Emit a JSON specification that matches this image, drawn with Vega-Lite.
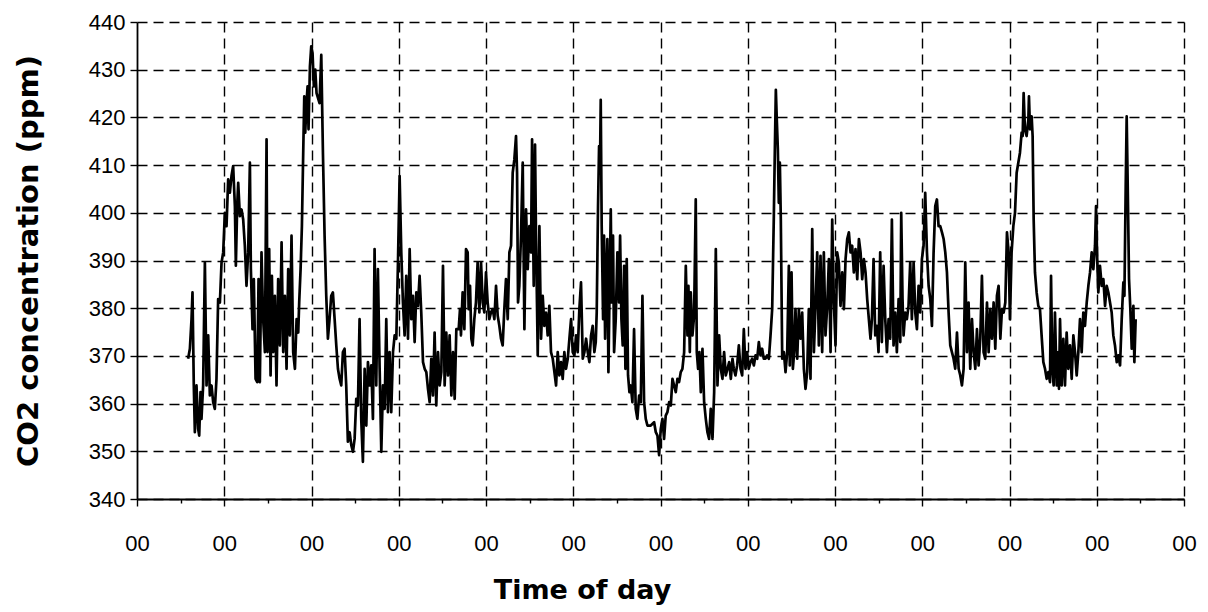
{
  "$schema": "https://vega.github.io/schema/vega-lite/v6.json",
  "width": 1047,
  "height": 477,
  "autosize": {"type": "none"},
  "padding": {"left": 137, "top": 22, "right": 24, "bottom": 113},
  "background": "white",
  "config": {"view": {"stroke": null}},
  "data": {"values": [
    {"t":0.586,"v":369.4},{"t":0.606,"v":371.5},{"t":0.625,"v":377.7},{"t":0.636,"v":383.3},{"t":0.651,"v":363.8},{"t":0.663,"v":354.0},{"t":0.682,"v":363.8},{"t":0.701,"v":354.7},{"t":0.713,"v":353.3},{"t":0.728,"v":362.4},{"t":0.739,"v":356.8},{"t":0.758,"v":363.8},{"t":0.778,"v":389.6},{"t":0.797,"v":363.8},{"t":0.816,"v":374.3},{"t":0.835,"v":361.7},{"t":0.854,"v":363.8},{"t":0.873,"v":360.3},{"t":0.892,"v":358.9},{"t":0.911,"v":365.2},{"t":0.930,"v":381.9},{"t":0.950,"v":381.2},{"t":0.969,"v":389.6},{"t":0.988,"v":391.7},{"t":1.007,"v":400.0},{"t":1.026,"v":397.2},{"t":1.045,"v":407.0},{"t":1.064,"v":404.2},{"t":1.083,"v":407.7},{"t":1.102,"v":409.8},{"t":1.122,"v":401.4},{"t":1.133,"v":388.9},{"t":1.148,"v":401.4},{"t":1.160,"v":406.3},{"t":1.179,"v":399.3},{"t":1.198,"v":400.7},{"t":1.217,"v":398.6},{"t":1.236,"v":393.1},{"t":1.255,"v":384.7},{"t":1.274,"v":391.7},{"t":1.294,"v":410.5},{"t":1.305,"v":388.2},{"t":1.324,"v":375.6},{"t":1.339,"v":386.1},{"t":1.359,"v":365.2},{"t":1.378,"v":364.5},{"t":1.393,"v":386.1},{"t":1.408,"v":364.5},{"t":1.427,"v":391.7},{"t":1.446,"v":377.7},{"t":1.466,"v":370.8},{"t":1.485,"v":415.4},{"t":1.496,"v":370.8},{"t":1.515,"v":392.4},{"t":1.531,"v":365.9},{"t":1.546,"v":386.8},{"t":1.561,"v":370.8},{"t":1.580,"v":382.6},{"t":1.599,"v":363.8},{"t":1.618,"v":386.1},{"t":1.638,"v":372.2},{"t":1.657,"v":393.8},{"t":1.676,"v":370.8},{"t":1.695,"v":382.6},{"t":1.714,"v":367.3},{"t":1.733,"v":388.2},{"t":1.752,"v":374.3},{"t":1.771,"v":395.2},{"t":1.790,"v":370.8},{"t":1.810,"v":367.3},{"t":1.829,"v":377.7},{"t":1.848,"v":374.9},{"t":1.859,"v":381.2},{"t":1.875,"v":388.2},{"t":1.890,"v":397.2},{"t":1.905,"v":412.6},{"t":1.917,"v":424.4},{"t":1.928,"v":416.8},{"t":1.943,"v":423.0},{"t":1.955,"v":426.5},{"t":1.966,"v":417.5},{"t":1.982,"v":430.7},{"t":1.997,"v":434.9},{"t":2.012,"v":433.5},{"t":2.027,"v":426.5},{"t":2.043,"v":430.0},{"t":2.058,"v":425.1},
    {"t":2.092,"v":423.0},{"t":2.112,"v":433.1},{"t":2.131,"v":412.6},{"t":2.150,"v":395.2},{"t":2.169,"v":382.6},{"t":2.188,"v":373.6},{"t":2.207,"v":377.7},{"t":2.226,"v":382.6},{"t":2.245,"v":383.3},{"t":2.265,"v":377.7},{"t":2.284,"v":372.2},{"t":2.303,"v":367.3},{"t":2.322,"v":365.2},{"t":2.341,"v":363.8},{"t":2.360,"v":370.8},{"t":2.379,"v":371.5},{"t":2.398,"v":363.8},{"t":2.417,"v":352.0},{"t":2.437,"v":354.0},{"t":2.456,"v":351.3},{"t":2.475,"v":349.9},{"t":2.494,"v":352.6},{"t":2.513,"v":361.0},{"t":2.532,"v":359.6},{"t":2.551,"v":377.7},{"t":2.570,"v":356.8},{"t":2.589,"v":347.8},{"t":2.609,"v":367.3},{"t":2.628,"v":355.4},{"t":2.647,"v":368.7},{"t":2.666,"v":363.8},{"t":2.685,"v":368.0},{"t":2.704,"v":356.8},{"t":2.723,"v":392.4},{"t":2.742,"v":363.8},{"t":2.761,"v":388.2},{"t":2.781,"v":367.3},{"t":2.800,"v":349.9},{"t":2.819,"v":363.8},{"t":2.838,"v":358.9},{"t":2.857,"v":377.7},{"t":2.876,"v":358.2},{"t":2.895,"v":370.8},{"t":2.914,"v":358.2},{"t":2.934,"v":370.8},{"t":2.953,"v":374.3},{"t":2.972,"v":373.6},{"t":2.991,"v":389.6},{"t":3.010,"v":407.7},{"t":3.029,"v":391.7},{"t":3.048,"v":381.2},{"t":3.067,"v":374.3},{"t":3.086,"v":386.8},{"t":3.106,"v":373.6},{"t":3.125,"v":392.4},{"t":3.144,"v":377.7},{"t":3.163,"v":382.6},{"t":3.182,"v":372.9},{"t":3.201,"v":383.3},{"t":3.220,"v":380.5},{"t":3.239,"v":386.8},{"t":3.258,"v":379.1},{"t":3.278,"v":368.7},{"t":3.297,"v":367.3},{"t":3.316,"v":366.6},{"t":3.335,"v":363.1},{"t":3.354,"v":360.3},{"t":3.373,"v":369.4},{"t":3.392,"v":361.7},{"t":3.411,"v":374.9},{"t":3.430,"v":359.6},{"t":3.450,"v":370.8},{"t":3.469,"v":363.8},{"t":3.488,"v":366.6},{"t":3.507,"v":388.9},{"t":3.526,"v":363.8},{"t":3.545,"v":374.9},{"t":3.564,"v":365.9},{"t":3.583,"v":374.3},{"t":3.603,"v":361.7},{"t":3.622,"v":370.8},{"t":3.641,"v":361.0},{"t":3.660,"v":375.6},
    {"t":3.687,"v":375.6},{"t":3.702,"v":379.8},{"t":3.713,"v":374.3},{"t":3.732,"v":383.3},{"t":3.752,"v":375.6},{"t":3.771,"v":392.4},{"t":3.790,"v":391.7},{"t":3.801,"v":379.8},{"t":3.817,"v":384.7},{"t":3.832,"v":373.6},{"t":3.847,"v":372.2},{"t":3.866,"v":377.7},{"t":3.885,"v":381.2},{"t":3.904,"v":389.6},{"t":3.924,"v":379.1},{"t":3.943,"v":389.6},{"t":3.962,"v":381.2},{"t":3.981,"v":379.1},{"t":4.000,"v":387.5},{"t":4.019,"v":381.2},{"t":4.038,"v":377.7},{"t":4.057,"v":379.1},{"t":4.077,"v":379.8},{"t":4.096,"v":377.7},{"t":4.115,"v":384.7},{"t":4.134,"v":378.4},{"t":4.153,"v":376.3},{"t":4.172,"v":373.6},{"t":4.191,"v":372.2},{"t":4.210,"v":379.8},{"t":4.229,"v":386.1},{"t":4.249,"v":377.7},{"t":4.268,"v":391.7},{"t":4.287,"v":393.1},{"t":4.306,"v":408.4},{"t":4.325,"v":411.2},{"t":4.344,"v":416.1},{"t":4.356,"v":408.4},{"t":4.367,"v":381.2},{"t":4.382,"v":384.7},{"t":4.401,"v":395.2},{"t":4.421,"v":410.5},{"t":4.440,"v":375.6},{"t":4.459,"v":400.7},{"t":4.478,"v":388.2},{"t":4.497,"v":397.2},{"t":4.516,"v":391.7},{"t":4.528,"v":415.4},{"t":4.547,"v":384.7},{"t":4.562,"v":414.3},{"t":4.573,"v":395.2},{"t":4.593,"v":370.1},{"t":4.612,"v":397.2},{"t":4.631,"v":373.6},{"t":4.650,"v":382.6},{"t":4.669,"v":376.3},{"t":4.688,"v":379.1},{"t":4.707,"v":374.3},{"t":4.726,"v":380.5},{"t":4.745,"v":370.8},{"t":4.765,"v":369.4},{"t":4.784,"v":366.6},{"t":4.803,"v":363.8},{"t":4.822,"v":370.8},{"t":4.841,"v":365.9},{"t":4.860,"v":368.7},{"t":4.879,"v":365.2},{"t":4.898,"v":370.8},{"t":4.917,"v":367.3},{"t":4.937,"v":369.4},{"t":4.956,"v":373.6},{"t":4.975,"v":377.7},{"t":4.994,"v":370.8},{"t":5.013,"v":370.1},{"t":5.032,"v":374.3},{"t":5.051,"v":370.8},{"t":5.070,"v":379.8},{"t":5.089,"v":385.4},{"t":5.109,"v":369.4},{"t":5.128,"v":370.8},{"t":5.147,"v":373.6},{"t":5.166,"v":370.8},{"t":5.185,"v":368.7},{"t":5.204,"v":374.3},{"t":5.223,"v":376.3},{"t":5.242,"v":370.8},
    {"t":5.258,"v":372.9},{"t":5.269,"v":379.1},{"t":5.284,"v":401.4},{"t":5.296,"v":414.0},{"t":5.307,"v":410.5},{"t":5.315,"v":423.7},{"t":5.326,"v":397.2},{"t":5.342,"v":377.7},{"t":5.353,"v":395.2},{"t":5.365,"v":373.6},{"t":5.380,"v":387.5},{"t":5.391,"v":394.5},{"t":5.403,"v":366.6},{"t":5.418,"v":386.1},{"t":5.430,"v":400.7},{"t":5.441,"v":381.2},{"t":5.456,"v":395.2},{"t":5.468,"v":370.8},{"t":5.487,"v":377.7},{"t":5.506,"v":391.7},{"t":5.525,"v":381.2},{"t":5.537,"v":395.2},{"t":5.552,"v":377.7},{"t":5.567,"v":372.2},{"t":5.583,"v":388.9},{"t":5.598,"v":367.3},{"t":5.613,"v":390.3},{"t":5.628,"v":365.9},{"t":5.644,"v":362.4},{"t":5.659,"v":363.8},{"t":5.678,"v":360.3},{"t":5.697,"v":375.6},{"t":5.716,"v":358.9},{"t":5.735,"v":356.8},{"t":5.755,"v":361.7},{"t":5.774,"v":360.3},{"t":5.793,"v":382.6},{"t":5.812,"v":360.3},{"t":5.831,"v":356.8},{"t":5.850,"v":355.4},{"t":5.888,"v":355.4},{"t":5.927,"v":356.1},{"t":5.946,"v":354.0},{"t":5.965,"v":353.3},{"t":5.984,"v":349.2},{"t":6.003,"v":354.7},{"t":6.022,"v":356.8},{"t":6.041,"v":352.6},{"t":6.060,"v":357.5},{"t":6.079,"v":358.2},{"t":6.099,"v":360.3},{"t":6.118,"v":359.6},{"t":6.137,"v":365.2},{"t":6.156,"v":363.8},{"t":6.175,"v":362.4},{"t":6.194,"v":365.2},{"t":6.213,"v":364.5},{"t":6.232,"v":366.6},{"t":6.251,"v":367.3},{"t":6.271,"v":370.8},{"t":6.290,"v":388.9},{"t":6.309,"v":374.3},{"t":6.320,"v":384.7},{"t":6.336,"v":370.8},{"t":6.347,"v":383.3},{"t":6.366,"v":374.3},{"t":6.385,"v":378.4},{"t":6.404,"v":402.8},{"t":6.416,"v":370.8},{"t":6.431,"v":367.3},{"t":6.446,"v":370.8},{"t":6.462,"v":362.4},{"t":6.481,"v":371.5},{"t":6.500,"v":360.3},{"t":6.519,"v":356.8},{"t":6.538,"v":354.0},{"t":6.557,"v":352.6},{"t":6.576,"v":358.9},{"t":6.596,"v":352.6},{"t":6.615,"v":362.4},{"t":6.634,"v":392.4},{"t":6.653,"v":363.8},{"t":6.672,"v":374.3},{"t":6.691,"v":367.3},{"t":6.710,"v":365.2},{"t":6.729,"v":370.8},{"t":6.748,"v":365.9},{"t":6.768,"v":367.3},{"t":6.787,"v":368.7},{"t":6.806,"v":365.2},{"t":6.825,"v":369.4},
    {"t":6.840,"v":367.3},{"t":6.859,"v":365.9},{"t":6.878,"v":368.0},{"t":6.898,"v":372.2},{"t":6.917,"v":367.3},{"t":6.936,"v":365.9},{"t":6.955,"v":375.6},{"t":6.974,"v":367.3},{"t":6.993,"v":370.8},{"t":7.012,"v":367.3},{"t":7.031,"v":368.7},{"t":7.050,"v":369.4},{"t":7.070,"v":368.0},{"t":7.089,"v":370.1},{"t":7.108,"v":369.4},{"t":7.127,"v":372.9},{"t":7.146,"v":370.1},{"t":7.165,"v":371.5},{"t":7.184,"v":369.4},{"t":7.203,"v":369.4},{"t":7.222,"v":370.1},{"t":7.242,"v":369.4},{"t":7.261,"v":374.3},{"t":7.280,"v":379.8},{"t":7.299,"v":399.3},{"t":7.310,"v":412.6},{"t":7.322,"v":425.8},{"t":7.333,"v":419.5},{"t":7.345,"v":413.3},{"t":7.356,"v":402.1},{"t":7.368,"v":410.5},{"t":7.379,"v":398.6},{"t":7.395,"v":369.4},{"t":7.414,"v":370.8},{"t":7.433,"v":366.6},{"t":7.452,"v":370.8},{"t":7.471,"v":388.9},{"t":7.482,"v":368.0},{"t":7.502,"v":387.5},{"t":7.517,"v":367.3},{"t":7.532,"v":370.8},{"t":7.547,"v":379.8},{"t":7.567,"v":369.4},{"t":7.586,"v":379.8},{"t":7.605,"v":373.6},{"t":7.624,"v":379.1},{"t":7.643,"v":367.3},{"t":7.662,"v":363.1},{"t":7.681,"v":366.6},{"t":7.700,"v":379.8},{"t":7.719,"v":365.2},{"t":7.739,"v":396.6},{"t":7.758,"v":370.8},{"t":7.777,"v":380.5},{"t":7.796,"v":391.7},{"t":7.815,"v":372.2},{"t":7.834,"v":391.0},{"t":7.853,"v":370.8},{"t":7.872,"v":391.7},{"t":7.891,"v":374.3},{"t":7.911,"v":380.5},{"t":7.930,"v":390.3},{"t":7.949,"v":370.8},{"t":7.968,"v":398.6},{"t":7.987,"v":381.2},{"t":8.006,"v":372.2},{"t":8.025,"v":391.7},{"t":8.044,"v":389.6},{"t":8.063,"v":380.5},{"t":8.083,"v":387.5},{"t":8.102,"v":379.8},{"t":8.121,"v":390.3},{"t":8.140,"v":394.5},{"t":8.159,"v":395.9},{"t":8.178,"v":391.7},{"t":8.197,"v":393.1},{"t":8.216,"v":387.5},{"t":8.235,"v":392.4},{"t":8.255,"v":386.1},{"t":8.274,"v":394.5},{"t":8.293,"v":391.7},{"t":8.312,"v":386.1},{"t":8.331,"v":390.3},{"t":8.350,"v":387.5},{"t":8.369,"v":381.9},{"t":8.388,"v":377.7},{"t":8.407,"v":373.6},
    {"t":8.423,"v":377.7},{"t":8.442,"v":390.3},{"t":8.461,"v":374.3},{"t":8.480,"v":376.3},{"t":8.499,"v":370.8},{"t":8.518,"v":391.7},{"t":8.537,"v":372.9},{"t":8.557,"v":388.9},{"t":8.576,"v":377.7},{"t":8.595,"v":370.8},{"t":8.614,"v":377.7},{"t":8.633,"v":373.6},{"t":8.652,"v":398.6},{"t":8.671,"v":372.2},{"t":8.690,"v":379.1},{"t":8.709,"v":370.8},{"t":8.729,"v":381.9},{"t":8.748,"v":372.9},{"t":8.759,"v":400.0},{"t":8.774,"v":381.9},{"t":8.786,"v":374.3},{"t":8.805,"v":379.1},{"t":8.824,"v":377.7},{"t":8.843,"v":380.5},{"t":8.862,"v":389.6},{"t":8.881,"v":377.7},{"t":8.901,"v":389.6},{"t":8.920,"v":379.1},{"t":8.939,"v":375.6},{"t":8.958,"v":384.7},{"t":8.977,"v":379.1},{"t":8.996,"v":390.3},{"t":9.015,"v":393.1},{"t":9.034,"v":404.2},{"t":9.054,"v":391.7},{"t":9.073,"v":384.7},{"t":9.092,"v":381.9},{"t":9.111,"v":376.3},{"t":9.130,"v":391.7},{"t":9.149,"v":401.4},{"t":9.168,"v":402.8},{"t":9.187,"v":397.2},{"t":9.206,"v":397.2},{"t":9.226,"v":395.9},{"t":9.245,"v":394.5},{"t":9.264,"v":391.7},{"t":9.283,"v":387.5},{"t":9.302,"v":379.1},{"t":9.321,"v":372.2},{"t":9.340,"v":370.8},{"t":9.359,"v":369.4},{"t":9.378,"v":367.3},{"t":9.398,"v":374.9},{"t":9.417,"v":367.3},{"t":9.436,"v":365.9},{"t":9.455,"v":363.8},{"t":9.474,"v":367.3},{"t":9.493,"v":389.6},{"t":9.512,"v":370.8},{"t":9.531,"v":381.2},{"t":9.550,"v":367.3},{"t":9.570,"v":377.7},{"t":9.589,"v":370.8},{"t":9.608,"v":367.3},{"t":9.627,"v":375.6},{"t":9.646,"v":368.0},{"t":9.665,"v":373.6},{"t":9.684,"v":386.8},{"t":9.703,"v":370.8},{"t":9.722,"v":369.4},{"t":9.742,"v":381.2},{"t":9.761,"v":370.8},{"t":9.780,"v":379.8},{"t":9.799,"v":373.6},{"t":9.818,"v":381.2},{"t":9.837,"v":371.5},{"t":9.856,"v":382.6},{"t":9.875,"v":384.7},{"t":9.895,"v":373.6},{"t":9.914,"v":379.8},{"t":9.933,"v":379.1},{"t":9.952,"v":381.2},{"t":9.971,"v":395.9},{"t":9.990,"v":391.7},
    {"t":10.005,"v":377.7},{"t":10.024,"v":391.7},{"t":10.044,"v":397.2},{"t":10.063,"v":400.0},{"t":10.082,"v":408.4},{"t":10.101,"v":410.5},{"t":10.120,"v":412.6},{"t":10.139,"v":416.8},{"t":10.151,"v":416.1},{"t":10.162,"v":425.1},{"t":10.177,"v":417.5},{"t":10.196,"v":416.1},{"t":10.216,"v":419.5},{"t":10.223,"v":424.4},{"t":10.235,"v":417.5},{"t":10.254,"v":420.2},{"t":10.265,"v":416.1},{"t":10.277,"v":398.6},{"t":10.292,"v":387.5},{"t":10.311,"v":383.3},{"t":10.330,"v":380.5},{"t":10.349,"v":379.8},{"t":10.368,"v":374.3},{"t":10.388,"v":368.7},{"t":10.407,"v":367.3},{"t":10.426,"v":365.2},{"t":10.445,"v":366.6},{"t":10.464,"v":364.5},{"t":10.476,"v":386.8},{"t":10.491,"v":367.3},{"t":10.506,"v":363.8},{"t":10.521,"v":379.1},{"t":10.541,"v":363.8},{"t":10.560,"v":370.8},{"t":10.567,"v":363.1},{"t":10.579,"v":377.7},{"t":10.598,"v":363.8},{"t":10.617,"v":373.6},{"t":10.636,"v":363.8},{"t":10.655,"v":374.9},{"t":10.674,"v":367.3},{"t":10.693,"v":372.2},{"t":10.713,"v":365.2},{"t":10.732,"v":374.3},{"t":10.751,"v":370.8},{"t":10.770,"v":365.9},{"t":10.789,"v":370.8},{"t":10.808,"v":377.7},{"t":10.827,"v":370.8},{"t":10.846,"v":379.1},{"t":10.865,"v":376.3},{"t":10.885,"v":381.2},{"t":10.904,"v":384.7},{"t":10.923,"v":387.5},{"t":10.942,"v":391.7},{"t":10.961,"v":388.2},{"t":10.980,"v":393.1},{"t":10.992,"v":401.4},{"t":11.003,"v":391.7},{"t":11.018,"v":383.3},{"t":11.037,"v":388.9},{"t":11.057,"v":384.7},{"t":11.076,"v":386.1},{"t":11.095,"v":380.5},{"t":11.114,"v":384.7},{"t":11.133,"v":383.3},{"t":11.152,"v":381.2},{"t":11.171,"v":379.1},{"t":11.190,"v":374.3},{"t":11.209,"v":372.2},{"t":11.229,"v":368.7},{"t":11.248,"v":370.1},{"t":11.267,"v":368.0},{"t":11.286,"v":377.7},{"t":11.305,"v":385.4},{"t":11.317,"v":382.6},{"t":11.332,"v":405.6},{"t":11.343,"v":420.2},{"t":11.355,"v":405.6},{"t":11.370,"v":386.1},{"t":11.385,"v":379.8},{"t":11.401,"v":371.5},{"t":11.420,"v":380.5},{"t":11.431,"v":368.7},{"t":11.446,"v":377.7}
  ]},
  "mark": {"type": "line", "color": "#000000", "strokeWidth": 2.7, "strokeJoin": "round"},
  "encoding": {
    "x": {
      "field": "t",
      "type": "quantitative",
      "scale": {"domain": [0, 12], "nice": false, "zero": false},
      "axis": {
        "values": [0,0.5,1,1.5,2,2.5,3,3.5,4,4.5,5,5.5,6,6.5,7,7.5,8,8.5,9,9.5,10,10.5,11,11.5,12],
        "labelExpr": "datum.value % 1 === 0 ? '00' : ''",
        "labelOverlap": false,
        "labelFlush": false,
        "labelFont": "Liberation Sans",
        "labelFontSize": 22,
        "labelColor": "#000000",
        "labelPadding": 27,
        "grid": true,
        "gridColor": "#000000",
        "gridDash": [10, 6],
        "gridWidth": 1.4,
        "gridOpacity": {"condition": {"test": "datum.value % 1 === 0 && datum.value > 0", "value": 1}, "value": 0},
        "tickColor": "#000000",
        "tickWidth": 1.4,
        "tickSize": {"condition": {"test": "datum.value % 1 === 0", "value": 7}, "value": 4},
        "domainColor": "#000000",
        "domainWidth": 1.8,
        "title": "Time of day",
        "titleFont": "DejaVu Sans",
        "titleFontWeight": "bold",
        "titleFontSize": 27,
        "titleColor": "#000000",
        "titleX": 445,
        "titleAlign": "center",
        "titlePadding": 23
      }
    },
    "y": {
      "field": "v",
      "type": "quantitative",
      "scale": {"domain": [340, 440], "nice": false, "zero": false},
      "axis": {
        "values": [340,350,360,370,380,390,400,410,420,430,440],
        "labelFont": "Liberation Sans",
        "labelFontSize": 22,
        "labelColor": "#000000",
        "labelPadding": 5,
        "grid": true,
        "gridColor": "#000000",
        "gridDash": [10, 6],
        "gridWidth": 1.4,
        "tickColor": "#000000",
        "tickWidth": 1.4,
        "tickSize": 7,
        "domainColor": "#000000",
        "domainWidth": 1.8,
        "title": "CO2 concentration  (ppm)",
        "titleFont": "DejaVu Sans",
        "titleFontWeight": "bold",
        "titleFontSize": 29,
        "titleColor": "#000000",
        "titlePadding": 45
      }
    }
  }
}
